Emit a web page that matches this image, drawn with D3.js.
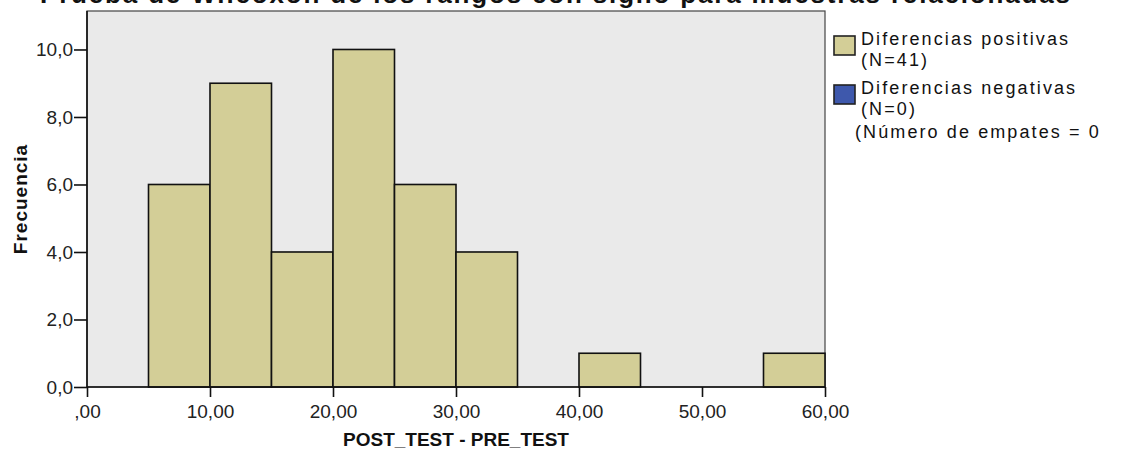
<!DOCTYPE html>
<html>
<head>
<meta charset="utf-8">
<script src="https://cdn.jsdelivr.net/npm/d3@7"></script>
<style>
  body { margin: 0; background: #ffffff; }
  svg { display: block; font-family: "Liberation Sans", Arial, sans-serif; }
</style>
</head>
<body>
<svg id="chart" width="1127" height="455"></svg>
<script>
// histogram bins (POST_TEST - PRE_TEST), width 5
var binLower = [5, 10, 15, 20, 25, 30, 40, 55];
var binUpper = [10, 15, 20, 25, 30, 35, 45, 60];
var frequency = [6, 9, 4, 10, 6, 4, 1, 1];

var xTicks = [0, 10, 20, 30, 40, 50, 60];
var xTickLabels = [",00", "10,00", "20,00", "30,00", "40,00", "50,00", "60,00"];
var yTicks = [0, 2, 4, 6, 8, 10];
var yTickLabels = ["0,0", "2,0", "4,0", "6,0", "8,0", "10,0"];

var legendNames = ["Diferencias positivas", "Diferencias negativas"];
var legendCounts = ["(N=41)", "(N=0)"];
var legendColors = ["#d3ce97", "#3e58ac"];
var tiesNote = "(Número de empates = 0";

var title = "Prueba de Wilcoxon de los rangos con signo para muestras relacionadas";
var xTitle = "POST_TEST - PRE_TEST";
var yTitle = "Frecuencia";

var plotLeft = 87, plotRight = 825, plotTop = 11, plotBottom = 387;

var svg = d3.select("#chart");

var x = d3.scaleLinear().domain([0, 60]).range([plotLeft, plotRight]);
var y = d3.scaleLinear().domain([0, 11.14]).range([plotBottom, plotTop]);

// plot background
svg.append("rect")
    .attr("x", plotLeft)
    .attr("y", plotTop)
    .attr("width", plotRight - plotLeft)
    .attr("height", plotBottom - plotTop)
    .attr("fill", "#eaeaea")
    .attr("stroke", "#444")
    .attr("stroke-width", 1.2);

// bars
svg.append("g")
    .selectAll("rect")
    .data(frequency)
    .join("rect")
    .attr("x", function(d, i){ return x(binLower[i]); })
    .attr("y", function(d){ return y(d); })
    .attr("width", function(d, i){ return x(binUpper[i]) - x(binLower[i]); })
    .attr("height", function(d){ return y(0) - y(d); })
    .attr("fill", legendColors[0])
    .attr("stroke", "#111")
    .attr("stroke-width", 1.6);

// axes
var yAxis = d3.axisLeft(y)
    .tickValues(yTicks)
    .tickSize(13)
    .tickPadding(1)
    .tickFormat(function(d, i){ return yTickLabels[i]; });
var xAxis = d3.axisBottom(x)
    .tickValues(xTicks)
    .tickSize(10)
    .tickPadding(5)
    .tickFormat(function(d, i){ return xTickLabels[i]; });

var gy = svg.append("g")
    .attr("transform", "translate(" + plotLeft + ",0)")
    .call(yAxis);
var gx = svg.append("g")
    .attr("transform", "translate(0," + plotBottom + ")")
    .call(xAxis);

[gx, gy].forEach(function(g){
    g.select(".domain").remove();
    g.selectAll(".tick line").attr("stroke", "#111").attr("stroke-width", 1.6);
    g.selectAll(".tick text")
        .attr("fill", "#222")
        .style("font-size", "19px")
        .style("font-family", "\"Liberation Sans\", Arial, sans-serif");
});
gx.selectAll(".tick text").attr("dy", "0.85em");

// axis lines
svg.append("line")
    .attr("x1", plotLeft).attr("x2", plotLeft)
    .attr("y1", plotTop).attr("y2", plotBottom)
    .attr("stroke", "#111").attr("stroke-width", 1.6);
svg.append("line")
    .attr("x1", plotLeft).attr("x2", plotRight)
    .attr("y1", plotBottom).attr("y2", plotBottom)
    .attr("stroke", "#111").attr("stroke-width", 1.6);

// titles
svg.append("text")
    .attr("x", 40)
    .attr("y", 3)
    .attr("textLength", 1030)
    .attr("lengthAdjust", "spacing")
    .style("font-size", "26px")
    .style("font-weight", "bold")
    .attr("fill", "#111")
    .text(title);

svg.append("text")
    .attr("x", (plotLeft + plotRight) / 2)
    .attr("y", 446)
    .attr("text-anchor", "middle")
    .style("font-size", "19px")
    .style("font-weight", "bold")
    .attr("fill", "#111")
    .text(xTitle);

svg.append("text")
    .attr("transform", "translate(27," + ((plotTop + plotBottom) / 2) + ") rotate(-90)")
    .attr("text-anchor", "middle")
    .style("font-size", "19px")
    .style("font-weight", "bold")
    .style("letter-spacing", "1px")
    .attr("fill", "#111")
    .text(yTitle);

// legend
var legend = svg.append("g").attr("transform", "translate(834,36)");
legendNames.forEach(function(name, i){
    var g = legend.append("g").attr("transform", "translate(0," + (i * 49) + ")");
    g.append("rect")
        .attr("width", 21)
        .attr("height", 19)
        .attr("fill", legendColors[i])
        .attr("stroke", "#222")
        .attr("stroke-width", 1.6);
    g.append("text")
        .attr("x", 27)
        .attr("y", 9)
        .style("font-size", "18px")
        .style("letter-spacing", "2.1px")
        .attr("fill", "#111")
        .text(name);
    g.append("text")
        .attr("x", 27)
        .attr("y", 30)
        .style("font-size", "18px")
        .style("letter-spacing", "2.1px")
        .attr("fill", "#111")
        .text(legendCounts[i]);
});
legend.append("text")
    .attr("x", 21)
    .attr("y", 102)
    .style("font-size", "18px")
    .style("letter-spacing", "2.1px")
    .attr("fill", "#111")
    .text(tiesNote);
</script>
</body>
</html>
